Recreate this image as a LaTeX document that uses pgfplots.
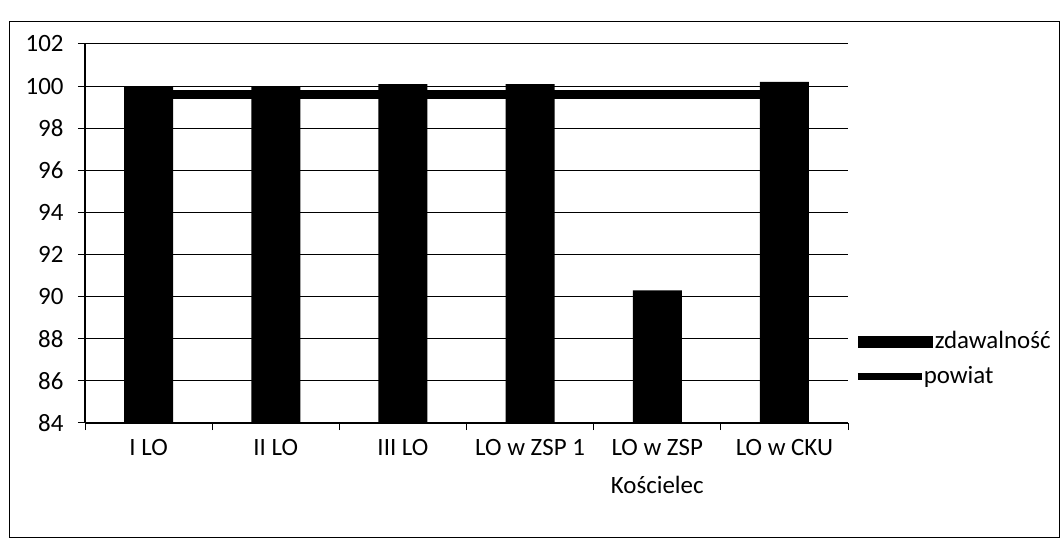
\documentclass[border=0pt]{standalone}
\usepackage{pgfplots}
\pgfplotsset{compat=1.18}
\usepackage{fontspec}
\setmainfont{Carlito}
\begin{document}
\fontsize{25}{29}\selectfont
\begin{tikzpicture}
\path[use as bounding box] (0bp,0bp) rectangle (1063bp,542bp);
\draw[line width=1bp] (9bp,4bp) rectangle (1059bp,520bp);
\begin{axis}[
  at={(85bp,119bp)}, anchor=south west,
  scale only axis, width=763bp, height=379bp,
  xmin=-0.5, xmax=5.5, ymin=84, ymax=102,
  ytick={84,86,...,102},
  xtick={0,...,5},
  xticklabels={I LO, II LO, III LO, LO w ZSP 1, {LO w ZSP\\Kościelec}, LO w CKU},
  xticklabel style={align=center, font=\fontsize{25}{38}\selectfont, yshift=-1bp},
  yticklabel style={font=\fontsize{25}{29}\selectfont, xshift=-6bp},
  /pgf/number format/assume math mode=true,
  major x tick style={draw=none},
  minor xtick={-0.5,0.5,...,5.5},
  minor tick length=7bp,
  major tick length=7bp,
  tick align=outside,
  tick style={black, line width=1bp},
  axis x line*=bottom, axis y line*=left,
  axis line style={black, line width=1.2bp},
  ymajorgrids, grid style={black, line width=1bp},
  legend style={at={(1.008,0.168)}, anchor=west, draw=none, fill=none,
    inner sep=0pt, row sep=10bp, font=\fontsize{25}{29}\selectfont},
  legend cell align=left,
  clip=true,
]
\addplot[ybar, bar width=49bp, fill=black, draw=none,
  legend image code/.code={\fill[black] (0bp,-6bp) rectangle (75bp,6bp);}]
  coordinates {(0,100.0) (1,100.0) (2,100.1) (3,100.1) (4,90.3) (5,100.2)};
\addlegendentry{zdawalność}
\addplot[black, line width=9bp, mark=none,
  legend image code/.code={\draw[black, line width=7bp] (0bp,0bp) -- (64bp,0bp);}]
  coordinates {(0,99.6) (1,99.6) (2,99.6) (3,99.6) (4,99.6) (5,99.6)};
\addlegendentry{\hspace*{-11bp}powiat}
\end{axis}
\end{tikzpicture}
\end{document}
